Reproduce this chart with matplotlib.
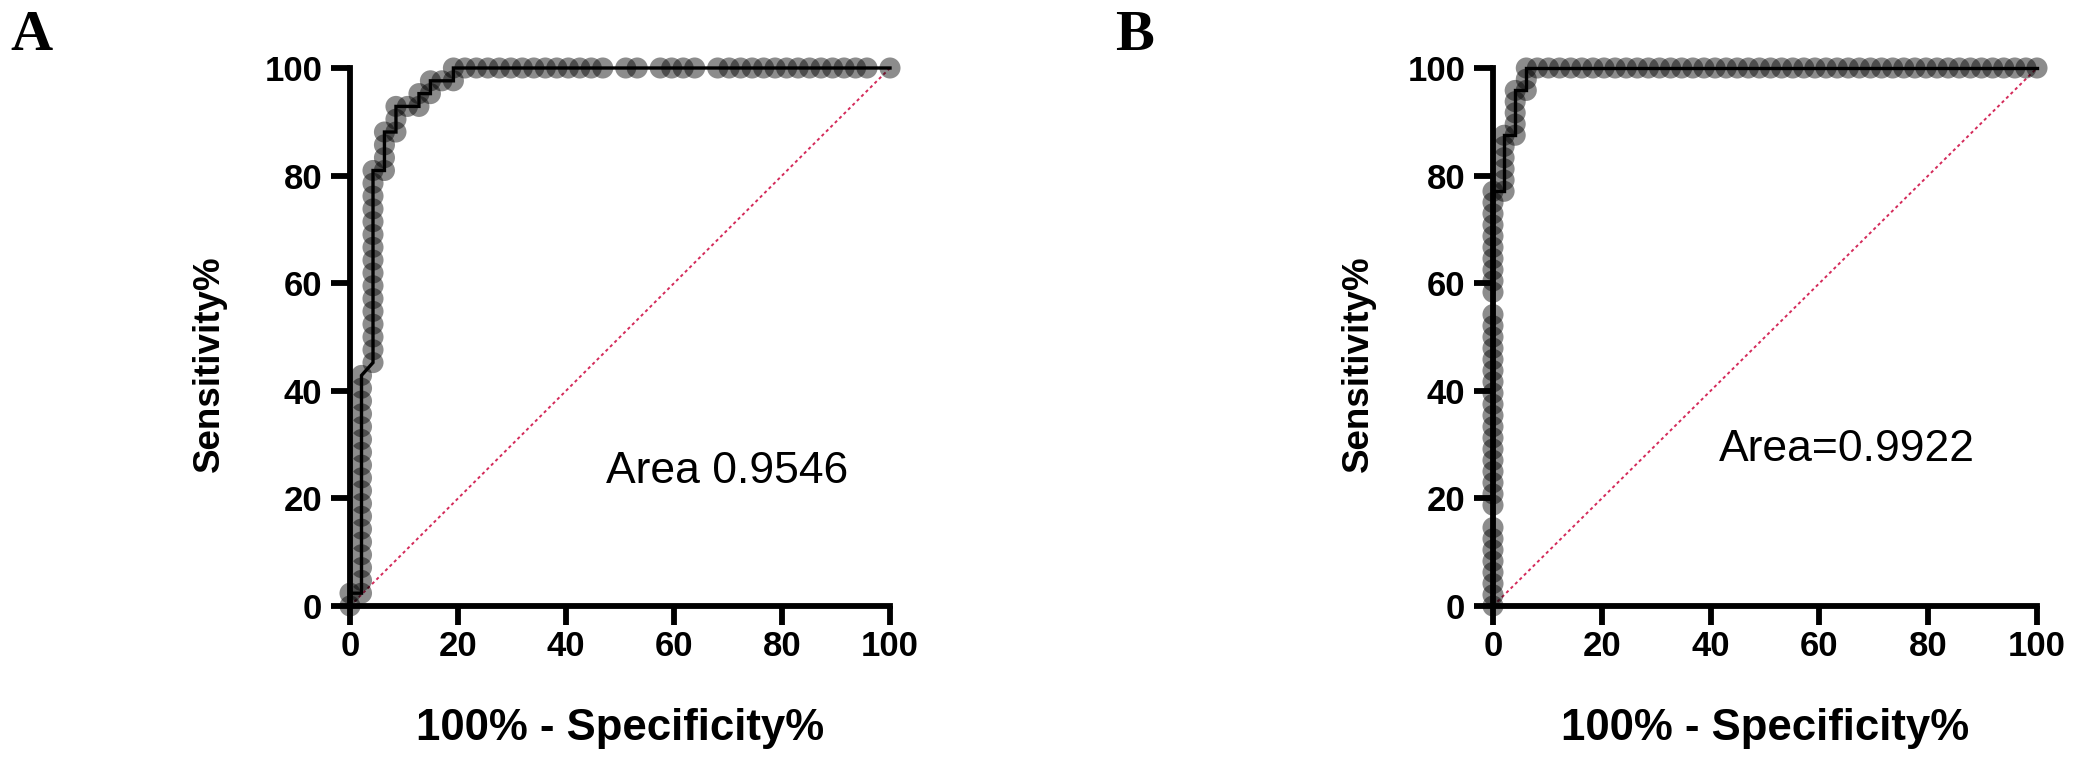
import matplotlib
matplotlib.use("Agg")
import matplotlib.pyplot as plt

# ---------------- data (percent values) ----------------
a_fpr = ([0.00, 0.00] + [2.13] * 18 + [4.26] * 16 + [6.38] * 4 + [8.51] * 3 +
         [10.64, 12.77, 12.77, 14.89, 14.89, 17.02, 19.15] +
         [19.15, 21.28, 23.40, 25.53, 27.66, 29.79, 31.91, 34.04, 36.17, 38.30,
          40.43, 42.55, 44.68, 46.81, 51.06, 53.19, 57.45, 59.57, 61.70, 63.83,
          68.09, 70.21, 72.34, 74.47, 76.60, 78.72, 80.85, 82.98, 85.11, 87.23,
          89.36, 91.49, 93.62, 95.74, 100.00])
a_sens = ([0.00, 2.38] +
          [2.38, 4.76, 7.14, 9.52, 11.90, 14.29, 16.67, 19.05, 21.43, 23.81,
           26.19, 28.57, 30.95, 33.33, 35.71, 38.10, 40.48, 42.86] +
          [45.24, 47.62, 50.00, 52.38, 54.76, 57.14, 59.52, 61.90, 64.29, 66.67,
           69.05, 71.43, 73.81, 76.19, 78.57, 80.95] +
          [80.95, 83.33, 85.71, 88.10] +
          [88.10, 90.48, 92.86] +
          [92.86, 92.86, 95.24, 95.24, 97.62, 97.62, 97.62] +
          [100.0] * 35)

b_fpr = ([0.00] * 36 + [2.04] * 6 + [4.08] * 5 + [6.12] * 3 +
         [8.16, 10.20, 12.24, 14.29, 16.33, 18.37, 20.41, 22.45, 24.49, 26.53,
          28.57, 30.61, 32.65, 34.69, 36.73, 38.78, 40.82, 42.86, 44.90, 46.94,
          48.98, 51.02, 53.06, 55.10, 57.14, 59.18, 61.22, 63.27, 65.31, 67.35,
          69.39, 71.43, 73.47, 75.51, 77.55, 79.59, 81.63, 83.67, 85.71, 87.76,
          89.80, 91.84, 93.88, 95.92, 97.96, 100.00])
b_sens = ([0.00, 2.08, 4.17, 6.25, 8.33, 10.42, 12.50, 14.58,
           18.75, 20.83, 22.92, 25.00, 27.08, 29.17, 31.25, 33.33, 35.42, 37.50,
           39.58, 41.67, 43.75, 45.83, 47.92, 50.00, 52.08, 54.17,
           58.33, 60.42, 62.50, 64.58, 66.67, 68.75, 70.83, 72.92, 75.00, 77.08] +
          [77.08, 79.17, 81.25, 83.33, 85.42, 87.50] +
          [87.50, 89.58, 91.67, 93.75, 95.83] +
          [95.83, 97.92, 100.0] +
          [100.0] * 46)

ref_line = [0, 100]
ticks = [0, 20, 40, 60, 80, 100]
panel_labels = ["A", "B"]
area_texts = ["Area 0.9546", "Area=0.9922"]
area_pos = [(47.5, 25.0), (41.6, 29.0)]
x_label = "100% - Specificity%"
y_label = "Sensitivity%"

# ---------------- figure ----------------
W, H = 2078, 763
fig = plt.figure(figsize=(W / 100, H / 100), dpi=100)
fig.patch.set_facecolor("white")

axes_px = [(350, 157, 540, 538), (1493, 157, 544, 538)]
panel_px = [(10, 50), (1115, 50)]
ylabel_x = [-0.228, -0.216]
FONT = "Liberation Sans"

datasets = [(a_fpr, a_sens), (b_fpr, b_sens)]

for i, (px, (fx, sy)) in enumerate(zip(axes_px, datasets)):
    ax = fig.add_axes([px[0] / W, px[1] / H, px[2] / W, px[3] / H])
    ax.set_xlim(0, 100)
    ax.set_ylim(0, 100)
    for s in ("top", "right"):
        ax.spines[s].set_visible(False)
    for s in ("left", "bottom"):
        ax.spines[s].set_linewidth(4.2)
        ax.spines[s].set_capstyle("projecting")
    ax.set_xticks(ticks)
    ax.set_yticks(ticks)
    ax.tick_params(axis="both", which="major", length=14, width=4.2,
                   labelsize=25, color="black")
    ax.tick_params(axis="x", pad=3)
    ax.tick_params(axis="y", pad=6)
    for lab in ax.get_xticklabels() + ax.get_yticklabels():
        lab.set_fontfamily(FONT)
        lab.set_fontweight("bold")

    # reference diagonal
    ax.plot(ref_line, ref_line, linestyle=(0, (1.6, 1.6)), color="#d42a5a",
            linewidth=1.4, zorder=2, clip_on=False)
    # markers
    ax.scatter(fx, sy, s=230, color="black", alpha=0.45, edgecolors="none",
               zorder=3, clip_on=False)
    # ROC line
    ax.plot(fx, sy, color="black", linewidth=2.4, zorder=4, clip_on=False,
            solid_joinstyle="miter")

    ax.set_xlabel(x_label, fontfamily=FONT, fontweight="bold", fontsize=31.5)
    ax.set_ylabel(y_label, fontfamily=FONT, fontweight="bold", fontsize=26.5)
    ax.xaxis.set_label_coords(0.5, -0.19)
    ax.yaxis.set_label_coords(ylabel_x[i], 0.45)

    ax.text(area_pos[i][0], area_pos[i][1], area_texts[i], fontfamily=FONT,
            fontsize=32, ha="left", va="center")

    fig.text(panel_px[i][0] / W, 1 - panel_px[i][1] / H, panel_labels[i],
             fontfamily="Liberation Serif", fontweight="bold", fontsize=42,
             ha="left", va="baseline")

fig.savefig("out.png", dpi=100, facecolor="white")
